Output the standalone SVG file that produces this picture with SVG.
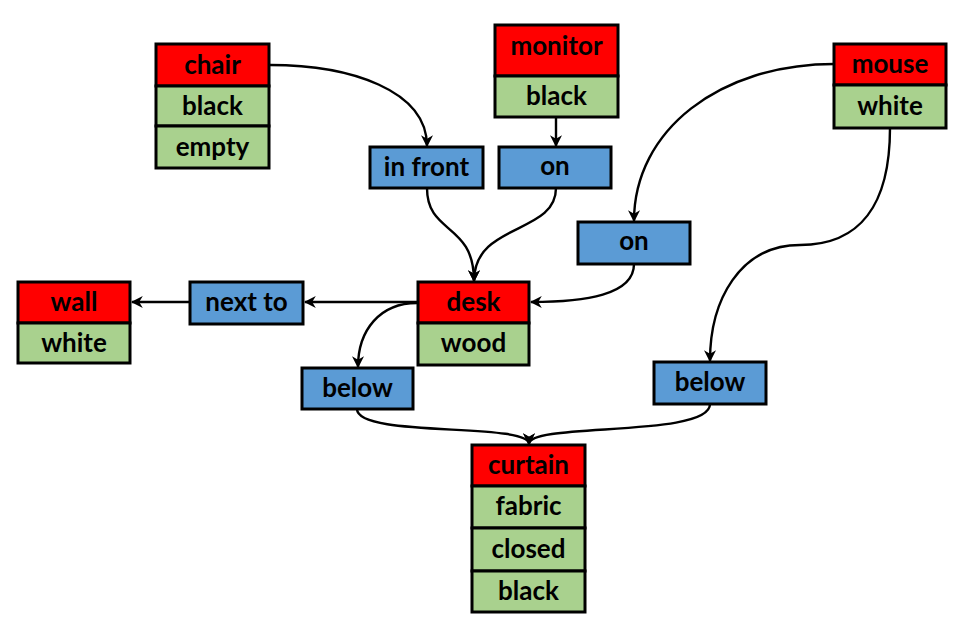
<svg xmlns="http://www.w3.org/2000/svg" width="958" height="626" viewBox="0 0 958 626">
<defs>
<style>
.r{fill:#FF0000;stroke:#000;stroke-width:3}
.g{fill:#A9D18E;stroke:#000;stroke-width:3}
.b{fill:#5B9BD5;stroke:#000;stroke-width:3}
text{font-family:Lato,"Open Sans","Liberation Sans",sans-serif;font-weight:bold;font-size:26px;text-anchor:middle;fill:#000}
.e{fill:none;stroke:#000;stroke-width:2.4}
</style>
<marker id="ah" viewBox="0 0 10 10" refX="9" refY="5" markerWidth="5" markerHeight="5" orient="auto" markerUnits="strokeWidth">
<path d="M0,0 L10,5 L0,10 L3,5 z" fill="#000"/>
</marker>
</defs>
<rect width="958" height="626" fill="#fff"/>
<g id="edges">
<path class="e" marker-end="url(#ah)" d="M270,65 C350,65 427,90 427,146"/>
<path class="e" marker-end="url(#ah)" d="M556,117 L556,146"/>
<path class="e" marker-end="url(#ah)" d="M427,188 C427,235 474,222 474,281"/>
<path class="e" marker-end="url(#ah)" d="M556,188 C556,235 474,222 474,281"/>
<path class="e" marker-end="url(#ah)" d="M834,64 C720,64 634,130 634,221"/>
<path class="e" marker-end="url(#ah)" d="M634,264 C634,295 585,302 531,302"/>
<path class="e" marker-end="url(#ah)" d="M417,302 L305,302"/>
<path class="e" marker-end="url(#ah)" d="M190,302 L132,302"/>
<path class="e" marker-end="url(#ah)" d="M417,303 C380,303 358,330 358,367"/>
<path class="e" marker-end="url(#ah)" d="M890,128 C890,205 860,245 800,245 C740,245 710,300 710,361"/>
<path class="e" marker-end="url(#ah)" d="M357,409 C357,438 529,422 529,444"/>
<path class="e" marker-end="url(#ah)" d="M710,404 C710,438 529,422 529,444"/>
</g>
<g id="chair">
<rect class="r" x="156" y="44" width="113" height="42"/><text x="212.5" y="74">chair</text>
<rect class="g" x="156" y="86" width="113" height="40"/><text x="212.5" y="115">black</text>
<rect class="g" x="156" y="126" width="113" height="42"/><text x="212.5" y="156">empty</text>
</g>
<g id="monitor">
<rect class="r" x="495" y="25" width="123" height="51"/><text x="556.5" y="55">monitor</text>
<rect class="g" x="495" y="76" width="123" height="41"/><text x="556.5" y="105">black</text>
</g>
<g id="mouse">
<rect class="r" x="834" y="44" width="112" height="41"/><text x="890" y="73">mouse</text>
<rect class="g" x="834" y="85" width="112" height="43"/><text x="890" y="115">white</text>
</g>
<g id="in_front">
<rect class="b" x="370" y="147" width="113" height="41"/><text x="426.5" y="176">in front</text>
</g>
<g id="on1">
<rect class="b" x="499" y="147" width="112" height="41"/><text x="555" y="175">on</text>
</g>
<g id="on2">
<rect class="b" x="578" y="222" width="112" height="42"/><text x="634" y="250">on</text>
</g>
<g id="wall">
<rect class="r" x="18" y="282" width="112" height="41"/><text x="74" y="311">wall</text>
<rect class="g" x="18" y="323" width="112" height="40"/><text x="74" y="352">white</text>
</g>
<g id="next_to">
<rect class="b" x="190" y="282" width="113" height="42"/><text x="246.5" y="311">next to</text>
</g>
<g id="desk">
<rect class="r" x="418" y="282" width="111" height="41"/><text x="473.5" y="311">desk</text>
<rect class="g" x="418" y="323" width="111" height="42"/><text x="473.5" y="352">wood</text>
</g>
<g id="below1">
<rect class="b" x="302" y="368" width="111" height="41"/><text x="357.5" y="397">below</text>
</g>
<g id="below2">
<rect class="b" x="654" y="362" width="112" height="42"/><text x="710" y="391">below</text>
</g>
<g id="curtain">
<rect class="r" x="472" y="445" width="113" height="41"/><text x="528.5" y="474">curtain</text>
<rect class="g" x="472" y="486" width="113" height="42"/><text x="528.5" y="515">fabric</text>
<rect class="g" x="472" y="528" width="113" height="43"/><text x="528.5" y="558">closed</text>
<rect class="g" x="472" y="571" width="113" height="41"/><text x="528.5" y="600">black</text>
</g>
</svg>
